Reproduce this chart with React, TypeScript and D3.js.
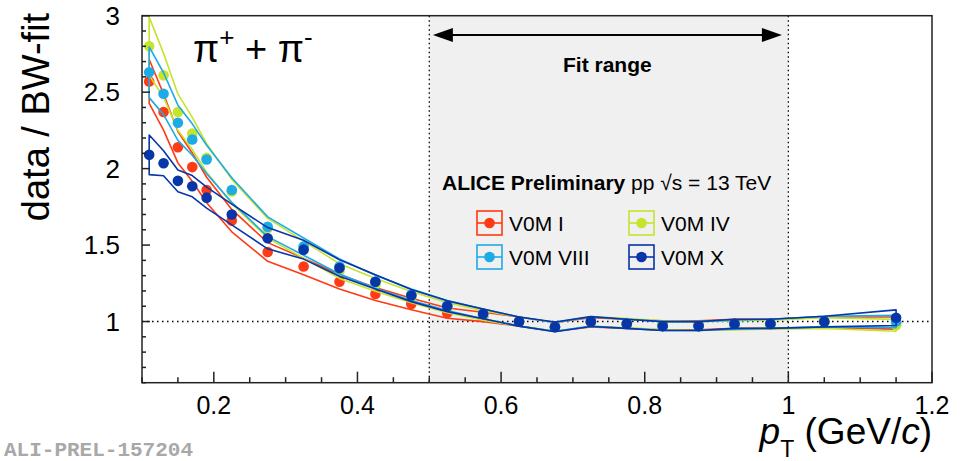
import React from "react";
import * as d3 from "d3";

const pt = [0.11, 0.13, 0.15, 0.17, 0.19, 0.225, 0.275, 0.325, 0.375, 0.425, 0.475, 0.525, 0.575, 0.625, 0.675, 0.725, 0.775, 0.825, 0.875, 0.925, 0.975, 1.05, 1.15];

const v0mI = [2.57, 2.37, 2.14, 2.01, 1.86, 1.66, 1.455, 1.36, 1.26, 1.18, 1.115, 1.055, 1.03, 1.0, 0.965, 0.995, 0.985, 0.975, 0.975, 0.985, 0.985, 0.995, 0.99];
const v0mIV = [2.8, 2.61, 2.37, 2.23, 2.07, 1.85, 1.61, 1.47, 1.33, 1.24, 1.16, 1.09, 1.04, 1.0, 0.965, 1.0, 0.99, 0.975, 0.97, 0.975, 0.98, 0.99, 0.975];
const v0mVIII = [2.63, 2.49, 2.3, 2.19, 2.06, 1.86, 1.62, 1.49, 1.36, 1.26, 1.175, 1.105, 1.05, 1.0, 0.965, 1.0, 0.985, 0.97, 0.97, 0.98, 0.985, 1.0, 1.0];
const v0mX = [2.09, 2.035, 1.92, 1.885, 1.81, 1.7, 1.545, 1.47, 1.35, 1.26, 1.17, 1.1, 1.05, 1.0, 0.965, 1.0, 0.985, 0.97, 0.97, 0.985, 0.985, 1.0, 1.025];

const sysI = [0.056, 0.05, 0.048, 0.046, 0.045, 0.044, 0.042, 0.04, 0.038, 0.036, 0.034, 0.032, 0.03, 0.03, 0.03, 0.03, 0.03, 0.03, 0.03, 0.03, 0.03, 0.035, 0.04];
const sysIV = [0.068, 0.055, 0.05, 0.047, 0.045, 0.043, 0.04, 0.038, 0.036, 0.034, 0.032, 0.03, 0.03, 0.03, 0.03, 0.032, 0.03, 0.03, 0.03, 0.03, 0.03, 0.035, 0.04];
const sysVIII = [0.063, 0.055, 0.05, 0.047, 0.045, 0.043, 0.04, 0.038, 0.036, 0.034, 0.032, 0.03, 0.03, 0.03, 0.03, 0.03, 0.03, 0.03, 0.03, 0.03, 0.03, 0.035, 0.04];
const sysX = [0.062, 0.04, 0.037, 0.037, 0.038, 0.04, 0.045, 0.042, 0.04, 0.037, 0.034, 0.032, 0.03, 0.03, 0.033, 0.032, 0.03, 0.03, 0.03, 0.03, 0.03, 0.035, 0.05];

const seriesNames = ["V0M I", "V0M IV", "V0M VIII", "V0M X"];
const seriesColors = ["#ff3a14", "#c6e42c", "#1eaae6", "#0836a8"];
const seriesValues = [v0mI, v0mIV, v0mVIII, v0mX];
const seriesSys = [sysI, sysIV, sysVIII, sysX];

const xTickLabels = [0.2, 0.4, 0.6, 0.8, 1, 1.2];
const yTickLabels = [1, 1.5, 2, 2.5, 3];
const fitRange = [0.5, 1.0];

const W = 967;
const H = 461;
const left = 142;
const right = 932;
const top = 15.7;
const bottom = 382.7;

const FONT = "'Liberation Sans', Arial, Helvetica, sans-serif";

export default function App() {
  const x = d3.scaleLinear().domain([0.1, 1.2]).range([left, right]);
  const y = d3.scaleLinear().domain([0.6, 3]).range([bottom, top]);

  const xMinor = d3.range(0.1, 1.2001, 0.05);
  const yMinor = d3.range(0.6, 3.0001, 0.1);

  const bandPath = (vals: number[], sys: number[]) => {
    const up = pt.map((p, i) => [x(p), y(vals[i] * (1 + sys[i]))] as [number, number]);
    const lo = pt.map((p, i) => [x(p), y(vals[i] * (1 - sys[i]))] as [number, number]).reverse();
    return d3.line()([...up, ...lo]) + "Z";
  };

  const legendPos = [
    [477, 211],
    [629, 211],
    [477, 245],
    [629, 245],
  ];

  const arrowY = 35;
  const ax0 = x(0.505);
  const ax1 = x(0.991);

  return (
    <svg width={W} height={H} style={{ position: "absolute", left: 0, top: 0, background: "#fff" }} fontFamily={FONT}>
      <rect x={0} y={0} width={W} height={H} fill="#fff" />
      {/* fit range shading */}
      <rect x={x(fitRange[0])} y={top} width={x(fitRange[1]) - x(fitRange[0])} height={bottom - top} fill="#f0f0f0" />
      <line x1={x(fitRange[0])} x2={x(fitRange[0])} y1={top} y2={bottom} stroke="#000" strokeWidth={1.3} strokeDasharray="1.5,3" />
      <line x1={x(fitRange[1])} x2={x(fitRange[1])} y1={top} y2={bottom} stroke="#000" strokeWidth={1.3} strokeDasharray="1.5,3" />
      {/* unity line */}
      <line x1={left} x2={right} y1={y(1)} y2={y(1)} stroke="#000" strokeWidth={1.5} strokeDasharray="1.5,3.5" />

      {/* series */}
      {seriesValues.map((vals, s) => (
        <g key={s}>
          <path d={bandPath(vals, seriesSys[s])} fill="none" stroke={seriesColors[s]} strokeWidth={1.6} strokeLinejoin="round" />
          {pt.map((p, i) => (
            <circle key={i} cx={x(p)} cy={y(vals[i])} r={5.3} fill={seriesColors[s]} />
          ))}
        </g>
      ))}

      {/* frame */}
      <rect x={left} y={top} width={right - left} height={bottom - top} fill="none" stroke="#222" strokeWidth={1.5} />

      {/* x ticks */}
      {xMinor.map((v, i) => {
        const isMajor = Math.abs(v * 10 - Math.round(v * 10)) < 1e-6 && Math.round(v * 10) % 2 === 0;
        return <line key={i} x1={x(v)} x2={x(v)} y1={bottom} y2={bottom - (isMajor ? 11 : 5.5)} stroke="#222" strokeWidth={1.5} />;
      })}
      {/* y ticks */}
      {yMinor.map((v, i) => {
        const isMajor = Math.abs(v * 2 - Math.round(v * 2)) < 1e-6;
        return <line key={i} x1={left} x2={left + (isMajor ? 8 : 4)} y1={y(v)} y2={y(v)} stroke="#222" strokeWidth={1.5} />;
      })}

      {/* tick labels */}
      {xTickLabels.map((v) => (
        <text key={v} x={x(v)} y={414} fontSize={25} textAnchor="middle" fill="#000">
          {String(v)}
        </text>
      ))}
      {yTickLabels.map((v) => (
        <text key={v} x={120} y={y(v) + 9} fontSize={26} textAnchor="end" fill="#000">
          {String(v)}
        </text>
      ))}

      {/* axis titles */}
      <text transform={`translate(49,117) rotate(-90)`} fontSize={38} textAnchor="middle" fill="#000">
        data / BW-fit
      </text>
      <text x={932} y={444} fontSize={37} textAnchor="end" fill="#000">
        <tspan fontStyle="italic">p</tspan>
        <tspan fontSize={23} dy={13}>T</tspan>
        <tspan dy={-13}> (GeV/</tspan>
        <tspan fontStyle="italic">c</tspan>
        <tspan>)</tspan>
      </text>

      {/* title */}
      <text x={193} y={62} fontSize={38} fill="#000">
        <tspan>π</tspan>
        <tspan fontSize={26} dy={-16}>+</tspan>
        <tspan dy={16}> + π</tspan>
        <tspan fontSize={26} dy={-16}>-</tspan>
      </text>

      {/* fit range arrow */}
      <line x1={ax0 + 12} x2={ax1 - 12} y1={arrowY} y2={arrowY} stroke="#000" strokeWidth={2} />
      <path d={`M${ax0},${arrowY} L${ax0 + 20},${arrowY - 7} L${ax0 + 20},${arrowY + 7} Z`} fill="#000" />
      <path d={`M${ax1},${arrowY} L${ax1 - 20},${arrowY - 7} L${ax1 - 20},${arrowY + 7} Z`} fill="#000" />
      <text x={(ax0 + ax1) / 2} y={72} fontSize={21} fontWeight="bold" textAnchor="middle" fill="#000">
        Fit range
      </text>

      {/* legend header */}
      <text x={442} y={190} fontSize={21} fill="#000">
        <tspan fontWeight="bold">ALICE Preliminary</tspan>
        <tspan> pp √s = 13 TeV</tspan>
      </text>

      {/* legend entries */}
      {seriesNames.map((name, s) => {
        const [lx, ly] = legendPos[s];
        return (
          <g key={name}>
            <rect x={lx} y={ly} width={25} height={24} fill="none" stroke={seriesColors[s]} strokeWidth={1.6} />
            <line x1={lx} x2={lx + 25} y1={ly + 12} y2={ly + 12} stroke={seriesColors[s]} strokeWidth={1.6} />
            <circle cx={lx + 12.5} cy={ly + 12} r={5.3} fill={seriesColors[s]} />
            <text x={lx + 32} y={ly + 20} fontSize={21} fill="#000">
              {name}
            </text>
          </g>
        );
      })}

      {/* watermark */}
      <text x={4} y={456} fontSize={21} fontWeight="bold" fontFamily="'Liberation Mono', 'DejaVu Sans Mono', monospace" fill="#a8a8a8">
        ALI-PREL-157204
      </text>
    </svg>
  );
}
